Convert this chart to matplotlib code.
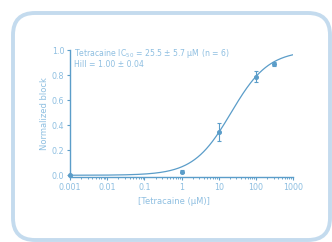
import matplotlib
matplotlib.use("Agg")
import matplotlib.pyplot as plt
import numpy as np
from matplotlib.patches import FancyBboxPatch
from matplotlib.ticker import LogLocator, NullFormatter, FixedLocator

plt.rcParams['font.family'] = ['DejaVu Sans']

conc = [0.001, 1, 10, 100, 300]
block = [0.0, 0.03, 0.344, 0.79, 0.89]
err = [0.006, 0.015, 0.072, 0.044, 0.016]
fit_ic50 = 21.5
fit_hill = 0.86
xticks = [0.001, 0.01, 0.1, 1, 10, 100, 1000]
xticklabels = ["0.001", "0.01", "0.1", "1", "10", "100", "1000"]
yticks = [0.0, 0.2, 0.4, 0.6, 0.8, 1.0]
yticklabels = ["0.0", "0.2", "0.4", "0.6", "0.8", "1.0"]

line_c = "#5b9dc9"
text_c = "#8ebfe1"
border_c = "#c4dbee"

W, H = 332, 242
fig = plt.figure(figsize=(3.32, 2.42), dpi=100)

bg = fig.add_axes([0, 0, 1, 1], zorder=0)
bg.set_xlim(0, W)
bg.set_ylim(H, 0)
bg.axis("off")
box = FancyBboxPatch((13, 13), 317, 227,
                     boxstyle="round,pad=0,rounding_size=22",
                     facecolor="white", edgecolor=border_c, linewidth=2.8)
bg.add_patch(box)

ax_top, ax_bot = 50.3, 177.0
ax = fig.add_axes([70/W, (H-ax_bot)/H, (293-70)/W, (ax_bot-ax_top)/H], zorder=1)
ax.set_facecolor("none")
ax.set_xscale("log")
ax.set_xlim(0.001, 1000)
ax.set_ylim(-0.014, 1.0)

xs = np.logspace(-3, 3, 300)
ys = xs**fit_hill / (xs**fit_hill + fit_ic50**fit_hill)
ax.plot(xs, ys, color=line_c, lw=0.9, zorder=3)
ax.errorbar(conc, block, yerr=err, fmt='o', ms=2.6, color=line_c,
            ecolor=line_c, elinewidth=0.8, capsize=1.6, capthick=0.8, zorder=4,
            clip_on=False)

for s in ["top", "right"]:
    ax.spines[s].set_visible(False)
for s in ["left", "bottom"]:
    ax.spines[s].set_color(line_c)
    ax.spines[s].set_linewidth(1.0)

ax.xaxis.set_major_locator(FixedLocator(xticks))
ax.set_xticklabels(xticklabels)
ax.xaxis.set_minor_locator(LogLocator(base=10, subs=np.arange(2, 10)))
ax.xaxis.set_minor_formatter(NullFormatter())
ax.set_yticks(yticks)
ax.set_yticklabels(yticklabels)
ax.tick_params(axis='both', which='major', colors=line_c, labelcolor=text_c,
               labelsize=5.8, length=2.5, width=0.8, pad=1.5)
ax.tick_params(axis='x', which='minor', colors=line_c, length=1.5, width=0.6)

ax.set_xlabel("[Tetracaine (μM)]", color=text_c, fontsize=6.0)
ax.xaxis.set_label_coords(0.466, -0.155)
ax.set_ylabel("Normalized block", color=text_c, fontsize=6.0, labelpad=2)

ax.text(0.018, 0.975, "Tetracaine IC$_{50}$ = 25.5 ± 5.7 μM (n = 6)",
        transform=ax.transAxes,
        color=text_c, fontsize=5.6, va="center", ha="left")
ax.text(0.018, 0.89, "Hill = 1.00 ± 0.04", transform=ax.transAxes,
        color=text_c, fontsize=5.6, va="center", ha="left")

fig.savefig("out.png", dpi=100)
